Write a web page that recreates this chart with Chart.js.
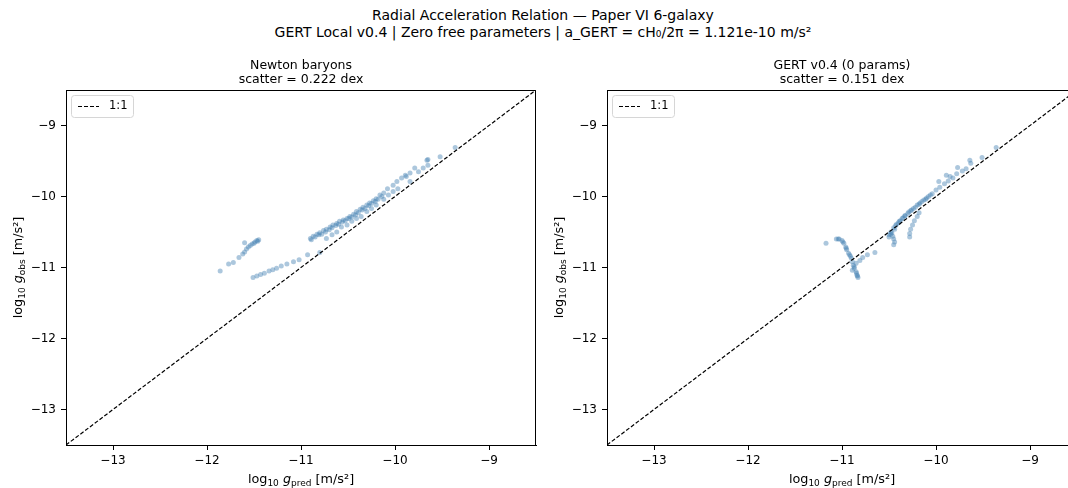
<!DOCTYPE html>
<html lang="en">
<head>
<meta charset="UTF-8">
<title>Radial Acceleration Relation</title>
<script src="https://cdn.jsdelivr.net/npm/chart.js"></script>
<style>
    body{
        margin:0;
        width:1068px;
        height:488px;
        overflow:hidden;
        position:relative;
        background:#fff;
        font-family:"DejaVu Sans",sans-serif;
        color:#000;
    }
    .suptitle{
        position:absolute;
        left:0;
        width:1086px;
        top:7px;
        text-align:center;
        font-size:14px;
        line-height:17px;
    }
    canvas{ position:absolute; top:50px; }
    #newtonChart{ left:0; }
    #gertChart{ left:541px; }
</style>
</head>
<body>
<div class="suptitle">
    Radial Acceleration Relation — Paper VI 6-galaxy<br>
    GERT Local v0.4 | Zero free parameters | a_GERT = cH₀/2π = 1.121e-10 m/s²
</div>
<canvas id="newtonChart" width="546" height="438"></canvas>
<canvas id="gertChart" width="546" height="438"></canvas>

<script>
/* axis limits and ticks (log10 m/s^2) */
const axisLimits = [-13.5, -8.5];
const tickValues = [-13, -12, -11, -10, -9];

/* left panel: log10 g_pred (Newton baryons) vs log10 g_obs */
const newtonX = [
    // small galaxy, upper-left tail (16)
    -11.86, -11.77, -11.72, -11.66, -11.62, -11.60, -11.60, -11.58, -11.56, -11.54, -11.52, -11.50, -11.49, -11.47, -11.45, -11.46,
    // low-acceleration strand (13)
    -11.51, -11.47, -11.43, -11.39, -11.34, -11.30, -11.26, -11.21, -11.15, -11.08, -11.02, -10.93, -10.80,
    // main band (23)
    -10.90, -10.87, -10.83, -10.80, -10.76, -10.73, -10.69, -10.66, -10.62, -10.59, -10.55, -10.51, -10.48, -10.44, -10.41, -10.37, -10.34, -10.30, -10.27, -10.23, -10.20, -10.16, -10.12,
    // main band, second row (22)
    -10.89, -10.85, -10.81, -10.78, -10.74, -10.70, -10.67, -10.63, -10.60, -10.56, -10.53, -10.49, -10.46, -10.42, -10.39, -10.35, -10.32, -10.28, -10.25, -10.21, -10.18, -10.14,
    // lower strand near 1:1 (16)
    -10.73, -10.67, -10.62, -10.57, -10.51, -10.46, -10.41, -10.36, -10.30, -10.25, -10.20, -10.12, -10.07, -10.02, -9.97, -9.84,
    // high-acceleration scatter (15)
    -10.08, -10.02, -9.98, -9.93, -9.89, -9.88, -9.84, -9.79, -9.75, -9.70, -9.66, -9.65, -9.65, -9.52, -9.36
];
const newtonY = [
    -11.05, -10.95, -10.93, -10.86, -10.81, -10.78, -10.65, -10.74, -10.71, -10.69, -10.67, -10.66, -10.64, -10.62, -10.61, -10.63,
    -11.14, -11.12, -11.10, -11.08, -11.05, -11.03, -11.01, -10.98, -10.95, -10.92, -10.89, -10.82, -10.79,
    -10.59, -10.56, -10.53, -10.51, -10.48, -10.46, -10.43, -10.40, -10.38, -10.35, -10.33, -10.31, -10.28, -10.25, -10.21, -10.18, -10.15, -10.12, -10.09, -10.06, -10.03, -9.98, -9.95,
    -10.61, -10.57, -10.54, -10.53, -10.50, -10.47, -10.44, -10.41, -10.39, -10.36, -10.34, -10.31, -10.29, -10.26, -10.23, -10.19, -10.17, -10.13, -10.10, -10.07, -10.04, -10.00,
    -10.59, -10.54, -10.50, -10.43, -10.40, -10.35, -10.31, -10.28, -10.21, -10.17, -10.12, -10.04, -9.98, -9.93, -9.89, -9.79,
    -9.89, -9.84, -9.79, -9.74, -9.70, -9.72, -9.67, -9.60, -9.65, -9.60, -9.49, -9.48, -9.56, -9.44, -9.31
];

/* right panel: log10 g_pred (GERT v0.4) vs log10 g_obs */
const gertX = [
    // low-acceleration hook (24)
    -11.17, -11.06, -11.03, -11.00, -10.98, -10.96, -10.95, -10.93, -10.91, -10.90, -10.89, -10.88, -10.87, -10.85, -10.84, -10.83, -10.89, -11.04, -10.99, -10.955, -10.92, -10.87, -10.845, -10.835,
    // hook side strand (5)
    -10.85, -10.81, -10.78, -10.73, -10.65,
    // main curve (22)
    -10.50, -10.47, -10.44, -10.43, -10.40, -10.38, -10.35, -10.33, -10.29, -10.26, -10.22, -10.18, -10.15, -10.11, -10.08, -10.04, -10.00, -9.96, -9.91, -9.87, -9.82, -9.78,
    // main curve, second row (14)
    -10.48, -10.45, -10.42, -10.39, -10.36, -10.33, -10.30, -10.27, -10.24, -10.20, -10.17, -10.13, -10.10, -10.06,
    // high-acceleration scatter (10)
    -9.97, -9.89, -9.85, -9.77, -9.72, -9.68, -9.64, -9.63, -9.51, -9.36,
    // short strand below the band (6)
    -10.50, -10.48, -10.46, -10.45, -10.44, -10.45,
    // second galaxy arc (7)
    -10.28, -10.28, -10.27, -10.25, -10.23, -10.20, -10.18
];
const gertY = [
    -10.66, -10.60, -10.60, -10.62, -10.66, -10.71, -10.75, -10.80, -10.84, -10.87, -10.92, -10.97, -11.01, -11.06, -11.11, -11.14, -11.04, -10.60, -10.64, -10.73, -10.82, -10.99, -11.08, -11.12,
    -10.94, -10.90, -10.86, -10.82, -10.79,
    -10.54, -10.51, -10.46, -10.41, -10.37, -10.34, -10.30, -10.27, -10.22, -10.19, -10.15, -10.11, -10.07, -10.04, -10.00, -9.96, -9.91, -9.87, -9.82, -9.78, -9.74, -9.68,
    -10.50, -10.44, -10.39, -10.35, -10.31, -10.27, -10.24, -10.20, -10.17, -10.12, -10.09, -10.05, -10.02, -9.98,
    -9.79, -9.70, -9.72, -9.59, -9.64, -9.61, -9.49, -9.53, -9.45, -9.31,
    -10.57, -10.53, -10.56, -10.60, -10.64, -10.68,
    -10.57, -10.52, -10.46, -10.40, -10.34, -10.28, -10.23
];

const FONT = '"DejaVu Sans", sans-serif';
const minus = v => (v < 0 ? '\u2212' + Math.abs(v) : String(v));

/* log10 g_sub [m/s²] drawn with mathtext-like sub/italic parts */
function drawMathLabel(ctx, sub, x, y, rotate){
    const parts = [
        {t:'log', f:'12.8px ' + FONT, dy:0},
        {t:'10', f:'9px ' + FONT, dy:3},
        {t:' ', f:'12.8px ' + FONT, dy:0},
        {t:'g', f:'italic 12.8px ' + FONT, dy:0},
        {t:sub, f:'9px ' + FONT, dy:3},
        {t:' [m/s²]', f:'12.8px ' + FONT, dy:0}
    ];
    ctx.save();
    ctx.translate(x, y);
    if(rotate) ctx.rotate(-Math.PI/2);
    let w = 0;
    parts.forEach(p => { ctx.font = p.f; p.w = ctx.measureText(p.t).width; w += p.w; });
    let cx = -w/2;
    ctx.fillStyle = '#000';
    ctx.textBaseline = 'alphabetic';
    ctx.textAlign = 'left';
    parts.forEach(p => { ctx.font = p.f; ctx.fillText(p.t, cx, 4.5 + p.dy); cx += p.w; });
    ctx.restore();
}

/* frame, legend box and axis labels */
const panelDecor = {
    id:'panelDecor',
    afterDraw(chart){
        const {ctx, chartArea:a} = chart;
        ctx.save();
        // top and right spines
        ctx.strokeStyle = '#000';
        ctx.lineWidth = 1;
        ctx.beginPath();
        ctx.moveTo(a.left, a.top + 0.5);
        ctx.lineTo(a.right - 0.5, a.top + 0.5);
        ctx.lineTo(a.right - 0.5, a.bottom);
        ctx.stroke();

        // legend
        const lx = a.left + 5, ly = a.top + 5, lw = 62, lh = 22;
        ctx.fillStyle = 'rgba(255,255,255,0.85)';
        ctx.strokeStyle = '#d6d6d6';
        ctx.beginPath();
        ctx.roundRect(lx + 0.5, ly + 0.5, lw, lh, 3);
        ctx.fill();
        ctx.stroke();
        ctx.strokeStyle = '#000';
        ctx.lineWidth = 1.2;
        ctx.setLineDash([4, 2]);
        ctx.beginPath();
        ctx.moveTo(a.left + 12, ly + 11.5);
        ctx.lineTo(a.left + 33, ly + 11.5);
        ctx.stroke();
        ctx.setLineDash([]);
        ctx.fillStyle = '#000';
        ctx.font = '11.5px ' + FONT;
        ctx.textBaseline = 'middle';
        ctx.fillText(chart.data.datasets[0].label, a.left + 43, ly + 11.5);
        ctx.restore();

        drawMathLabel(ctx, 'pred', (a.left + a.right)/2, a.bottom + 33, false);
        drawMathLabel(ctx, 'obs', a.left - 49, (a.top + a.bottom)/2, true);
    }
};

function axisOpts(isX){
    return {
        type:'linear',
        min:axisLimits[0],
        max:axisLimits[1],
        afterBuildTicks: s => { s.ticks = tickValues.map(v => ({value:v})); },
        afterFit: s => { if(isX) s.height = 43; else s.width = 66; },
        grid:{ drawOnChartArea:false, drawTicks:true, tickLength:5, color:'#000', lineWidth:1 },
        border:{ display:true, color:'#000', width:1 },
        ticks:{
            color:'#000',
            autoSkip:false,
            maxRotation:0,
            padding: isX ? 4 : 5,
            font:{ family:FONT, size:12 },
            callback: v => minus(v)
        }
    };
}

function makePanel(id, xs, ys, titleLines){
    const pts = xs.map((x, i) => ({x:x, y:ys[i]}));
    return new Chart(document.getElementById(id), {
        type:'scatter',
        data:{
            datasets:[
                {
                    label:'1:1',
                    type:'line',
                    data:axisLimits.map(v => ({x:v, y:v})),
                    borderColor:'#000',
                    borderWidth:1.2,
                    borderDash:[4, 2],
                    pointRadius:0,
                    fill:false,
                    order:0
                },
                {
                    label:'galaxies',
                    data:pts,
                    backgroundColor:'rgba(70,130,180,0.45)',
                    borderWidth:0,
                    pointRadius:2.5,
                    order:1
                }
            ]
        },
        options:{
            responsive:false,
            animation:false,
            layout:{ padding:{ left:0, right:10, top:0, bottom:0 } },
            plugins:{
                legend:{ display:false },
                tooltip:{ enabled:false },
                title:{
                    display:true,
                    text:titleLines,
                    fullSize:false,
                    color:'#000',
                    font:{ family:FONT, size:12.5, weight:'normal', lineHeight:1.12 },
                    padding:{ top:9, bottom:3 }
                }
            },
            scales:{ x:axisOpts(true), y:axisOpts(false) }
        },
        plugins:[panelDecor]
    });
}

makePanel('newtonChart', newtonX, newtonY, ['Newton baryons', 'scatter = 0.222 dex']);
makePanel('gertChart', gertX, gertY, ['GERT v0.4 (0 params)', 'scatter = 0.151 dex']);
</script>
</body>
</html>
